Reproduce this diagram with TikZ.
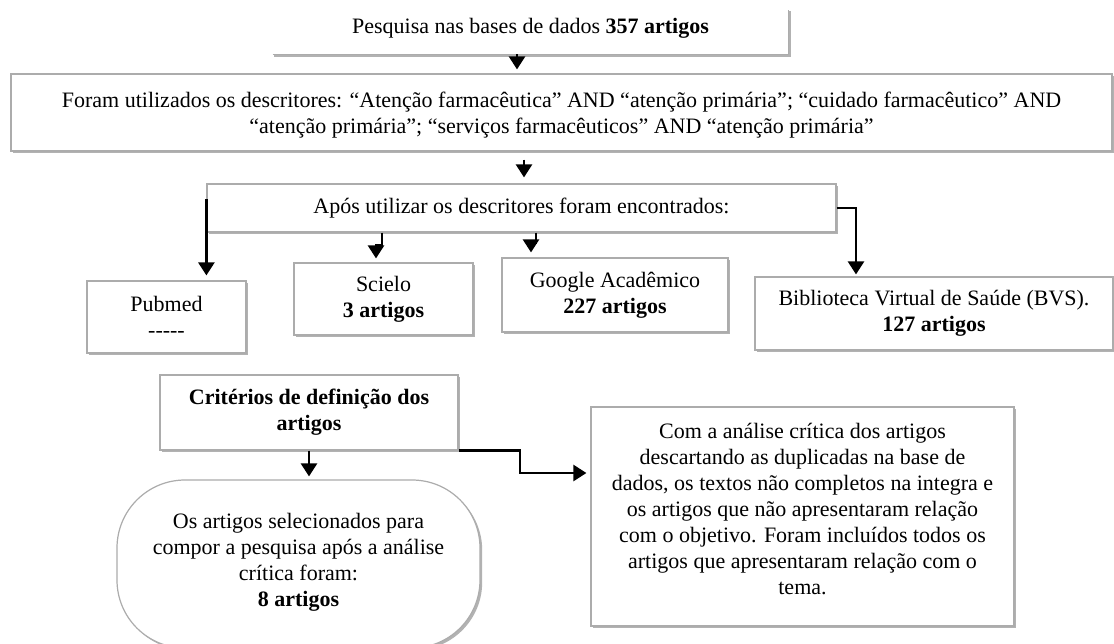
\documentclass[tikz,border=0pt]{standalone}
\usepackage{fontspec}
\setmainfont{Liberation Serif}
\usetikzlibrary{shadows,arrows.meta,calc}
\tikzset{
  px/.style={x=0.5pt,y=-0.5pt},
  box/.style={draw=gray!65, line width=0.6pt, fill=white, align=center, inner sep=0pt,
    font=\fontsize{11}{13}\selectfont,
    drop shadow={shadow xshift=1.1pt, shadow yshift=-1.1pt, fill=gray!60, opacity=1}},
  plain/.style={align=center, inner sep=0pt, font=\fontsize{11}{13}\selectfont},
  arr/.style={line width=1.3pt, -{Triangle[width=8pt,length=6.5pt]}},
}
\begin{document}
\begin{tikzpicture}[px]
\fill[white] (0,0) rectangle (1114,643);
\useasboundingbox (0,0) rectangle (1114,643);

% top partial box
\node[plain, minimum width=257.5pt, minimum height=22pt] (top) at (530.5,32) {};
\node[plain] (toptext) at ([yshift=2pt]top.center) {Pesquisa nas bases de dados \textbf{357 artigos}};
\draw[gray!60, line width=1.1pt] ([shift={(0.9pt,-0.9pt)}]top.south west) -- ([shift={(0.9pt,-0.9pt)}]top.south east) -- ([shift={(0.9pt,-0.9pt)}]top.north east);
\draw[gray!65, line width=0.6pt] (top.south west) -- (top.south east) -- (top.north east);

\node[box, minimum width=550.5pt, minimum height=38.5pt] (desc) at (561.5,112.5) {};
\node[plain] (desct) at ([yshift=-1.5pt]desc.center)
 {Foram utilizados os descritores: “Atenção farmacêutica” AND “atenção primária”; “cuidado farmacêutico” AND\\“atenção primária”; “serviços farmacêuticos” AND “atenção primária”};

\node[box, minimum width=314.5pt, minimum height=24pt] (apos) at (521.5,208)
 {Após utilizar os descritores foram encontrados:};

\node[box, minimum width=79.5pt, minimum height=36pt] (pub) at (166.5,317) {Pubmed\\{-}{-}{-}{-}{-}};
\node[box, minimum width=89.5pt, minimum height=36pt] (sci) at (383.5,299) {Scielo\\\textbf{3 artigos}};
\node[box, minimum width=113pt, minimum height=37pt] (goo) at (615,295) {Google Acadêmico\\\textbf{227 artigos}};
\node[box, minimum width=179pt, minimum height=36.5pt] (bvs) at (934,313.5) {Biblioteca Virtual de Saúde (BVS).\\\textbf{127 artigos}};

\node[box, minimum width=149pt, minimum height=37.5pt] (crit) at (309,412.5) {\textbf{Critérios de definição dos}\\\textbf{artigos}};
\node[box, rounded corners=34pt, minimum width=181.5pt, minimum height=84pt] (sel) at (298.5,564) {};
\node[plain] (selt) at ([yshift=1pt]sel.center)
 {Os artigos selecionados para\\compor a pesquisa após a análise\\crítica foram:\\\textbf{8 artigos}};
\node[box, minimum width=211.5pt, minimum height=109.5pt] (com) at (802.5,516.5) {};
\node[plain] (comt) at ([yshift=4pt]com.center)
 {Com a análise crítica dos artigos\\descartando as duplicadas na base de\\dados, os textos não completos na integra e\\os artigos que não apresentaram relação\\com o objetivo. Foram incluídos todos os\\artigos que apresentaram relação com o\\tema.};

% connectors
\coordinate (a1) at (517,0);
\coordinate (a2) at (524,0);
\coordinate (sa) at (382,0);
\coordinate (sb) at (376,245);
\coordinate (ga) at (536,0);
\coordinate (gb) at (531,243);
\coordinate (bv) at (856,0);
\coordinate (cc) at (520,473);

\draw[arr, shorten >=2pt] (top.south -| a1) -- (desc.north -| a1);
\draw[arr, shorten <=4pt, shorten >=3pt] (desc.south -| a2) -- (apos.north -| a2);
\draw[arr, shorten >=2.5pt] ([yshift=4.5pt]apos.west) -- (pub.north -| apos.west);
\draw[arr, shorten >=2pt] (apos.south -| sa) |- (sb) -- (sci.north -| sb);
\draw[arr, shorten >=2.5pt] (apos.south -| ga) |- (gb) -- (goo.north -| gb);
\draw[arr, shorten >=1pt] (apos.east) -| (bvs.north -| bv);
\draw[arr, shorten >=1.5pt] (crit.south) -- (sel.north -| crit.south);
\draw[arr, shorten >=2pt] (crit.south east) -| (cc) -- (com.west |- cc);
\end{tikzpicture}
\end{document}
